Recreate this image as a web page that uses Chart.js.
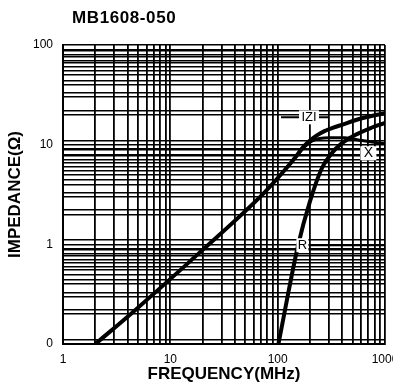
<!DOCTYPE html>
<html>
<head>
<meta charset="utf-8">
<script src="https://cdn.jsdelivr.net/npm/chart.js@4.4.1/dist/chart.umd.min.js"></script>
<style>
  html, body { margin: 0; padding: 0; background: #fff; }
  #wrap { width: 393px; height: 387px; }
</style>
</head>
<body>
<div id="wrap"><canvas id="myChart" width="393" height="387"></canvas></div>
<script>
// Chart text
const chartTitle = 'MB1608-050';
const xTitle = 'FREQUENCY(MHz)';
const yTitle = 'IMPEDANCE(\u03A9)';

// Tick labels (decades only)
const xTickValues = [1, 10, 100, 1000];
const xTickLabels = ['1', '10', '100', '1000'];
const yTickValues = [0.1, 1, 10, 100];
const yTickLabels = ['0', '1', '10', '100'];

// |Z| curve (MHz, ohm)
const zFreq = [2, 4.5, 20, 74, 117, 145, 175, 200, 230, 270, 330, 395, 610, 1000];
const zOhm = [0.1, 0.21, 0.88, 3.25, 5.6, 7.4, 9.6, 11.0, 12.3, 13.6, 14.8, 15.8, 18.4, 20.7];

// X curve
const xFreq = [117, 145, 175, 210, 300, 420, 610, 1000];
const xOhm = [5.6, 7.3, 9.3, 10.9, 11.7, 11.7, 11.0, 10.2];

// R curve
const rFreq = [101.6, 155, 200, 258, 319, 395, 527, 726, 1000];
const rOhm = [0.1, 0.98, 2.7, 5.8, 8.2, 10.3, 12.5, 14.6, 16.5];

// Curve labels
const curveLabels = ['IZI', 'X', 'R'];

function toPoints(xs, ys) {
  return xs.map((x, i) => ({ x: x, y: ys[i] }));
}

// grid ticks: 1..9 per decade, plus the doubled lines a bit above each one
function logGrid(min, max, steps) {
  let out = [];
  for (let d = min; d < max; d *= 10) {
    steps.forEach(m => {
      let v = Math.round(d * m * 1e6) / 1e6;
      if (v >= min && v <= max) out.push({ value: v });
    });
  }
  out.push({ value: max });
  return out;
}

const labelFont = "'Liberation Sans', Arial, sans-serif";

const curveStyle = {
  borderColor: '#000',
  borderWidth: 4,
  pointRadius: 0,
  fill: false,
  cubicInterpolationMode: 'monotone'
};

// Draws the title and the curve call-outs
const notes = {
  id: 'notes',
  afterDraw(chart) {
    const c = chart.ctx;
    const xs = chart.scales.x, ys = chart.scales.y;
    c.save();
    c.fillStyle = '#000';
    c.font = 'bold 17px ' + labelFont;
    c.letterSpacing = '0.6px';
    c.textBaseline = 'middle';
    c.textAlign = 'left';
    c.fillText(chartTitle, 72, 18);
    c.letterSpacing = '0px';

    c.font = '13px ' + labelFont;
    c.textAlign = 'center';
    c.strokeStyle = '#000';
    c.lineWidth = 2;

    // IZI with leader
    let px = xs.getPixelForValue(196), py = ys.getPixelForValue(18.8);
    c.beginPath(); c.moveTo(px - 28, py); c.lineTo(px + 20, py); c.stroke();
    c.fillStyle = '#fff'; c.fillRect(px - 10, py - 7, 20, 14);
    c.fillStyle = '#000'; c.fillText(curveLabels[0], px, py);

    // X box
    c.font = '14px ' + labelFont;
    px = xs.getPixelForValue(700); py = ys.getPixelForValue(8.2);
    c.fillStyle = '#fff'; c.fillRect(px - 8, py - 7, 16, 14);
    c.fillStyle = '#000'; c.fillText(curveLabels[1], px, py);

    // R with leader
    c.font = '13px ' + labelFont;
    px = xs.getPixelForValue(170); py = ys.getPixelForValue(0.98);
    c.beginPath(); c.moveTo(px + 6, py); c.lineTo(chart.chartArea.right, py); c.stroke();
    c.fillStyle = '#fff'; c.fillRect(px - 6, py - 7, 12, 14);
    c.fillStyle = '#000'; c.fillText(curveLabels[2], px, py);
    c.restore();
  }
};

let ctx = document.getElementById('myChart').getContext('2d');
let myChart = new Chart(ctx, {
  type: 'line',
  data: {
    datasets: [
      Object.assign({ label: '|Z|', data: toPoints(zFreq, zOhm) }, curveStyle),
      Object.assign({ label: 'X', data: toPoints(xFreq, xOhm) }, curveStyle, { borderWidth: 3 }),
      Object.assign({ label: 'R', data: toPoints(rFreq, rOhm) }, curveStyle)
    ]
  },
  options: {
    responsive: false,
    animation: false,
    layout: { padding: { top: 45, right: 8, left: 0, bottom: 0 } },
    plugins: {
      legend: { display: false },
      tooltip: { enabled: false }
    },
    scales: {
      x: {
        type: 'logarithmic',
        min: 1,
        max: 1000,
        afterBuildTicks: s => { s.ticks = logGrid(1, 1000, [1, 2, 3, 4, 5, 6, 7, 8, 9]); },
        afterFit: s => { s.height = 43; s.paddingLeft = 0; s.paddingRight = 0; },
        grid: { color: '#000', lineWidth: 1.8, drawTicks: false },
        border: { color: '#000', width: 2 },
        ticks: {
          autoSkip: false,
          maxRotation: 0,
          padding: 8,
          color: '#000',
          font: { size: 12, family: labelFont },
          callback: v => {
            let i = xTickValues.indexOf(v);
            return i >= 0 ? xTickLabels[i] : '';
          }
        },
        title: {
          display: true,
          text: xTitle,
          color: '#000',
          font: { size: 17, weight: 'bold', family: labelFont },
          padding: { top: 0, bottom: 2 }
        }
      },
      y: {
        type: 'logarithmic',
        min: 0.1,
        max: 100,
        afterBuildTicks: s => {
          s.ticks = logGrid(0.1, 100, [1, 1.1, 2, 2.2, 3, 3.3, 4, 4.4, 5, 5.5, 6, 6.6, 7, 7.7, 8, 8.8, 9]);
        },
        afterFit: s => { s.width = 63; s.paddingTop = 0; s.paddingBottom = 0; },
        grid: { color: '#000', lineWidth: 1.6, drawTicks: false },
        border: { color: '#000', width: 2 },
        ticks: {
          autoSkip: false,
          padding: 10,
          color: '#000',
          font: { size: 12, family: labelFont },
          callback: v => {
            let i = yTickValues.indexOf(v);
            return i >= 0 ? yTickLabels[i] : '';
          }
        },
        title: {
          display: true,
          text: yTitle,
          color: '#000',
          font: { size: 17, weight: 'bold', family: labelFont },
          padding: { top: 5, bottom: 0 }
        }
      }
    }
  },
  plugins: [notes]
});
</script>
</body>
</html>
